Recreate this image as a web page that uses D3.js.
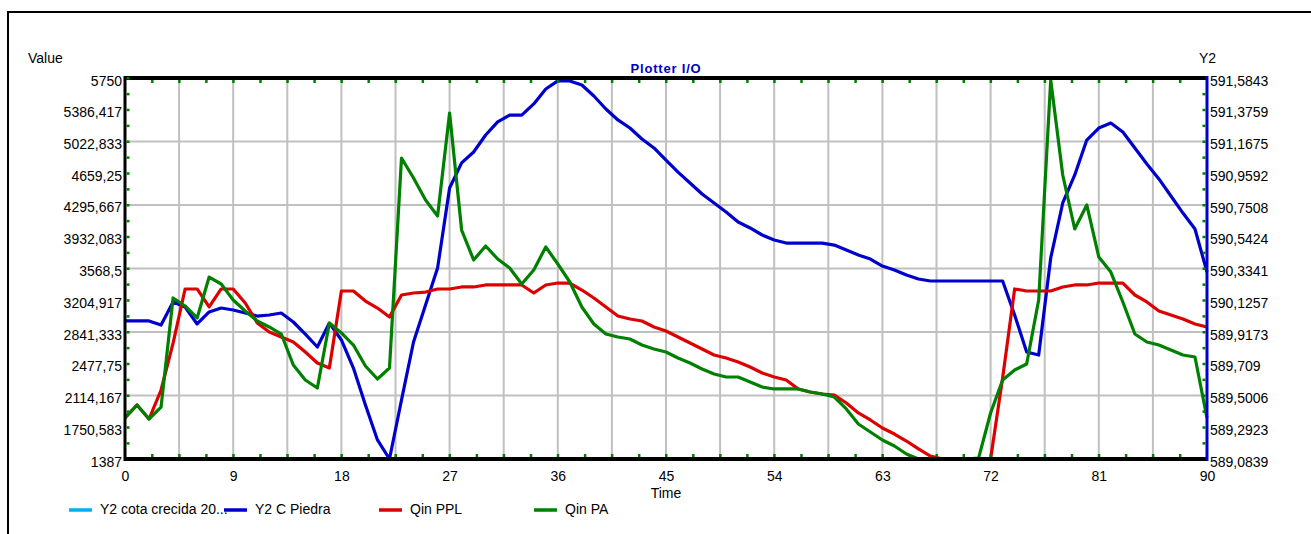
<!DOCTYPE html>
<html><head><meta charset="utf-8">
<script src="https://cdn.jsdelivr.net/npm/d3@7"></script>
<style>
html,body{margin:0;padding:0;background:#fff;}
svg{display:block;font-family:"Liberation Sans",Arial,sans-serif;}
</style></head>
<body>
<svg id="chart" width="1311" height="534"></svg>
<script>
// ---- data ----
const time = d3.range(0, 91); // 0..90
const seriesNames = ["Y2 cota crecida 20...", "Y2 C Piedra", "Qin PPL", "Qin PA"];
const cotaCrecida = []; // legend only, not visible in plot
const cPiedra = [589.990,589.990,589.990,589.963,590.114,590.081,589.970,590.049,590.075,590.062,
590.042,590.022,590.029,590.042,589.983,589.904,589.819,589.976,589.865,589.681,
589.438,589.209,589.084,589.471,589.852,590.095,590.337,590.862,591.027,591.099,
591.210,591.296,591.341,591.341,591.414,591.512,591.565,591.565,591.538,591.466,
591.381,591.309,591.256,591.184,591.125,591.046,590.967,590.895,590.823,590.764,
590.705,590.639,590.600,590.554,590.521,590.501,590.501,590.501,590.501,590.488,
590.456,590.423,590.396,590.350,590.324,590.291,590.265,590.252,590.252,590.252,
590.252,590.252,590.252,590.252,590.029,589.786,589.766,590.403,590.764,590.948,
591.177,591.256,591.289,591.230,591.125,591.020,590.922,590.810,590.698,590.593,
590.311];
const qinPPL = [1857,2005,1845,2177,2715,3334,3334,3128,3334,3334,
3173,2944,2841,2784,2727,2612,2486,2429,3311,3311,
3196,3116,3013,3265,3288,3299,3334,3334,3357,3357,
3380,3380,3380,3380,3288,3380,3402,3402,3322,3231,
3128,3025,2990,2967,2899,2853,2784,2715,2647,2578,
2544,2498,2440,2372,2326,2292,2189,2154,2131,2120,
2028,1914,1834,1742,1673,1593,1502,1421,1387,1387,
1387,1387,1387,2315,3334,3311,3311,3311,3357,3380,
3380,3402,3402,3402,3265,3185,3082,3036,2990,2933,
2899];
const qinPA = [1857,2005,1845,1982,3231,3139,3002,3471,3391,3208,
3082,2967,2899,2818,2463,2292,2200,2944,2830,2692,
2452,2303,2429,4834,4605,4353,4170,5349,4009,3666,
3826,3677,3574,3391,3551,3815,3620,3414,3128,2933,
2818,2784,2761,2692,2647,2612,2544,2486,2418,2360,
2326,2326,2269,2211,2189,2189,2189,2154,2131,2097,
1960,1788,1696,1605,1536,1444,1387,1387,1387,1387,
1387,1398,1914,2292,2406,2475,3208,5727,4639,4021,
4296,3700,3528,3185,2818,2727,2692,2635,2578,2555,
1857];
const xTicks = [0,9,18,27,36,45,54,63,72,81,90];
const leftTicks = [5750,5386.417,5022.833,4659.25,4295.667,3932.083,3568.5,3204.917,2841.333,2477.75,2114.167,1750.583,1387];
const leftLabels = ["5750","5386,417","5022,833","4659,25","4295,667","3932,083","3568,5","3204,917","2841,333","2477,75","2114,167","1750,583","1387"];
const rightTicks = [591.5843,591.3759,591.1675,590.9592,590.7508,590.5424,590.3341,590.1257,589.9173,589.709,589.5006,589.2923,589.0839];
const rightLabels = ["591,5843","591,3759","591,1675","590,9592","590,7508","590,5424","590,3341","590,1257","589,9173","589,709","589,5006","589,2923","589,0839"];
const colors = ["#00b0f0","#0000cc","#dd0000","#008000"];

// ---- layout ----
const svg = d3.select("#chart");
const L=125, R=1207, T=78, B=459;
const x = d3.scaleLinear().domain([0,90]).range([L,R]);
const yL = d3.scaleLinear().domain([1387,5750]).range([B,T]);
const yR = d3.scaleLinear().domain([589.0839,591.5843]).range([B,T]);
const FS = "14px";

// outer frame
svg.append("rect").attr("x",8).attr("y",12).attr("width",1400).attr("height",600)
  .attr("fill","none").attr("stroke","#000").attr("stroke-width",2);

// grid
const grid = svg.append("g").attr("stroke","#c0c0c0").attr("stroke-width",2);
d3.range(4.5, 90, 4.5).forEach(v=>{
  grid.append("line").attr("x1",x(v)).attr("x2",x(v)).attr("y1",T).attr("y2",B);
});
leftTicks.forEach((v,i)=>{
  if(i>0 && i<12 && i%2===0)
    grid.append("line").attr("x1",L).attr("x2",R).attr("y1",yL(v)).attr("y2",yL(v));
});

// series
const lineL = d3.line().x((d,i)=>x(time[i])).y(d=>yL(d));
const lineR = d3.line().x((d,i)=>x(time[i])).y(d=>yR(d));
const sg = svg.append("g").attr("fill","none").attr("stroke-width",3.2).attr("stroke-linejoin","round");
if(cotaCrecida.length) sg.append("path").attr("d",lineR(cotaCrecida)).attr("stroke",colors[0]);
sg.append("path").attr("d",lineR(cPiedra)).attr("stroke",colors[1]);
sg.append("path").attr("d",lineL(qinPPL)).attr("stroke",colors[2]);
sg.append("path").attr("d",lineL(qinPA)).attr("stroke",colors[3]);

// axes frame
svg.append("line").attr("x1",L-1).attr("x2",R).attr("y1",T).attr("y2",T).attr("stroke","#000").attr("stroke-width",4);
svg.append("line").attr("x1",L-1).attr("x2",R).attr("y1",B).attr("y2",B).attr("stroke","#000").attr("stroke-width",4);
svg.append("line").attr("x1",L).attr("x2",L).attr("y1",T-2).attr("y2",B+2).attr("stroke","#000").attr("stroke-width",3);
svg.append("line").attr("x1",R).attr("x2",R).attr("y1",T-2).attr("y2",B+2).attr("stroke","#0000cc").attr("stroke-width",3);

// minor green ticks
const tk = svg.append("g").attr("fill","#008000");
d3.range(2.25, 90, 2.25).forEach(v=>{
  tk.append("rect").attr("x",x(v)-1).attr("y",T+2).attr("width",2.5).attr("height",3);
  tk.append("rect").attr("x",x(v)-1).attr("y",B-5).attr("width",2.5).attr("height",3);
});
d3.range(1387+363.5833/2, 5750, 363.5833/2).forEach(v=>{
  tk.append("rect").attr("x",L+1.5).attr("y",yL(v)-1).attr("width",3).attr("height",2.5);
});
d3.range(589.0839+0.208367/2, 591.58, 0.208367/2).forEach(v=>{
  tk.append("rect").attr("x",R-4.5).attr("y",yR(v)-1).attr("width",3).attr("height",2.5);
});

// axis labels via d3 axes
const axL = svg.append("g").attr("transform",`translate(${L-3},0)`)
  .call(d3.axisLeft(yL).tickValues(leftTicks).tickFormat((d,i)=>leftLabels[i]).tickSize(0).tickPadding(0));
const axR = svg.append("g").attr("transform",`translate(${R+3},0)`)
  .call(d3.axisRight(yR).tickValues(rightTicks).tickFormat((d,i)=>rightLabels[i]).tickSize(0).tickPadding(0));
const axB = svg.append("g").attr("transform",`translate(0,${B})`)
  .call(d3.axisBottom(x).tickValues(xTicks).tickFormat(d3.format("d")).tickSize(0).tickPadding(0));
[axL,axR,axB].forEach(a=>{
  a.select(".domain").remove();
  a.selectAll("text").attr("font-family","Liberation Sans, Arial, sans-serif").attr("font-size",FS).attr("fill","#000");
});
axL.selectAll("text").attr("dy",null).attr("y",7);
axR.selectAll("text").attr("dy",null).attr("y",7);
axB.selectAll("text").attr("dy",null).attr("y",22);

// titles
svg.append("text").attr("x",28).attr("y",62.5).attr("font-size",FS).text("Value");
svg.append("text").attr("x",1199).attr("y",62.5).attr("font-size",FS).text("Y2");
svg.append("text").attr("x",666).attr("y",72.5).attr("text-anchor","middle")
  .attr("font-size","13px").attr("font-weight","bold").attr("letter-spacing","0.8px")
  .attr("fill","#0000cc").text("Plotter I/O");
svg.append("text").attr("x",666).attr("y",498).attr("text-anchor","middle").attr("font-size",FS).text("Time");

// legend
const legX = [69,224,379,534];
const lg = svg.append("g");
seriesNames.forEach((n,i)=>{
  lg.append("text").attr("x",legX[i]+31).attr("y",513.5).attr("font-size",FS).text(n);
});
seriesNames.forEach((n,i)=>{
  lg.append("line").attr("x1",legX[i]).attr("x2",legX[i]+23).attr("y1",510).attr("y2",510)
    .attr("stroke",colors[i]).attr("stroke-width",3.5);
});
</script>
</body></html>
